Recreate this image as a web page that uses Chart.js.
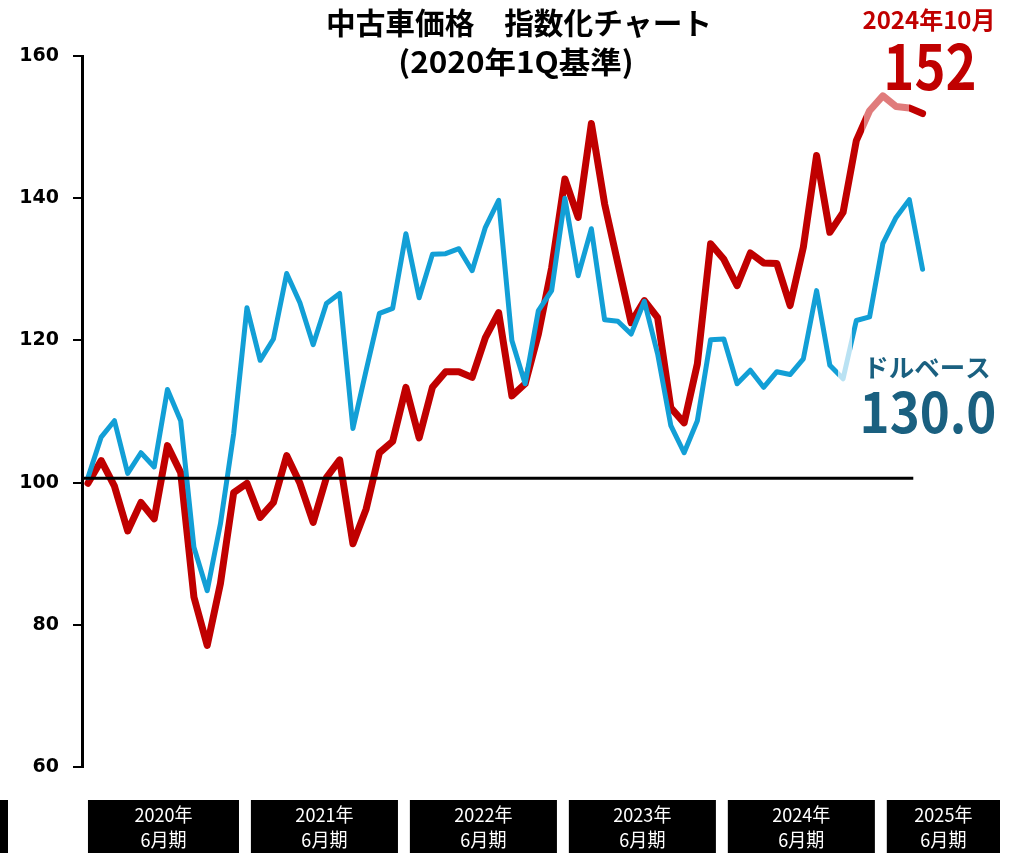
<!DOCTYPE html>
<html lang="ja">
<head>
<meta charset="utf-8">
<title>中古車価格 指数化チャート</title>
<script src="https://cdn.jsdelivr.net/npm/chart.js@4.4.1/dist/chart.umd.min.js"></script>
<style>
	html, body { margin: 0; padding: 0; background: #fff; }
	#wrap { position: relative; width: 1010px; height: 853px; }
</style>
</head>
<body>
<div id="wrap"><canvas id="chart"></canvas></div>
<script>
(function () {
	'use strict';

	// 月次 2019年7月〜2024年10月, 2020年1Q = 100
	var yenIndex = [
		99.9, 103.1, 99.5, 93.2, 97.2, 94.9, 105.2, 101.4, 83.9, 77.1, 85.8, 98.6,
		99.9, 95.1, 97.2, 103.8, 99.9, 94.4, 100.7, 103.2, 91.4, 96.3, 104.2, 105.8,
		113.4, 106.3, 113.4, 115.6, 115.6, 114.8, 120.4, 123.9, 112.2, 113.9, 120.9, 130.2,
		142.7, 137.3, 150.5, 139.2, 130.8, 122.5, 125.6, 123.2, 110.5, 108.4, 116.7, 133.6,
		131.4, 127.7, 132.3, 130.9, 130.8, 124.9, 133.1, 146.0, 135.2, 138.0, 148.1, 152.3,
		154.4, 152.9, 152.7, 151.9
	];
	var usdIndex = [
		100.7, 106.4, 108.7, 101.3, 104.2, 102.2, 113.1, 108.7, 90.9, 84.8, 94.2, 106.9,
		124.6, 117.2, 120.2, 129.4, 125.3, 119.4, 125.2, 126.6, 107.6, 115.8, 123.8, 124.5,
		135.0, 126.0, 132.1, 132.2, 132.9, 129.8, 135.9, 139.7, 120.0, 113.9, 124.2, 127.0,
		140.0, 129.1, 135.7, 122.9, 122.7, 120.9, 125.5, 118.1, 108.0, 104.2, 108.7, 120.1,
		120.2, 113.9, 115.8, 113.4, 115.6, 115.2, 117.4, 127.0, 116.5, 114.6, 122.8, 123.3,
		133.6, 137.3, 139.8, 130.0
	];
	var baseValue = 100.6;
	var baseEnd = 62.3;
	var yenPale = [58.6, 62.0];
	var usdPale = [56.6, 57.7];

	var fiscalYears = ['2020年', '2021年', '2022年', '2023年', '2024年', '2025年'];
	var fiscalSuffix = '6月期';

	var titleLines = ['中古車価格\u3000指数化チャート', '(2020年1Q基準)'];
	var yenNote = ['2024年10月', '152'];
	var usdNote = ['ドルベース', '130.0'];

	function toPoints(vals) {
		return vals.map(function (v, i) { return { x: i, y: v }; });
	}

	// 区間だけ薄い色にする横方向グラデーション
	function fadeColor(solid, pale, range) {
		return function (c) {
			var chart = c.chart;
			var area = chart.chartArea;
			var xs = chart.scales.x;
			if (!area || !xs) return solid;
			var l = area.left, w = area.right - area.left;
			var a = (xs.getPixelForValue(range[0]) - l) / w;
			var b = (xs.getPixelForValue(range[1]) - l) / w;
			var g = chart.ctx.createLinearGradient(l, 0, area.right, 0);
			g.addColorStop(0, solid);
			g.addColorStop(a, solid);
			g.addColorStop(a, pale);
			g.addColorStop(b, pale);
			g.addColorStop(b, solid);
			g.addColorStop(1, solid);
			return g;
		};
	}

	// 横に詰めた文字
	function squeezeText(ctx, text, x, y, sx) {
		ctx.save();
		ctx.translate(x, y);
		ctx.scale(sx, 1);
		ctx.fillText(text, 0, 0);
		ctx.restore();
	}

	var cjk = '"Noto Sans CJK JP", "Noto Sans", sans-serif';

	var decor = {
		id: 'decor',
		afterDraw: function (chart) {
			var ctx = chart.ctx;
			var xs = chart.scales.x;
			ctx.save();

			// タイトル
			ctx.fillStyle = '#000';
			ctx.textAlign = 'center';
			ctx.textBaseline = 'middle';
			ctx.font = 'bold 30px ' + cjk;
			squeezeText(ctx, titleLines[0], 519, 23, 0.99);
			squeezeText(ctx, titleLines[1], 516, 62, 1.05);

			// 円ベース注記
			ctx.fillStyle = '#c00000';
			ctx.font = 'bold 24px ' + cjk;
			squeezeText(ctx, yenNote[0], 929, 20, 1.0);
			ctx.font = 'bold 62px ' + cjk;
			squeezeText(ctx, yenNote[1], 930, 66, 0.85);

			// ドルベース注記
			ctx.fillStyle = '#1a6080';
			ctx.font = 'bold 25px ' + cjk;
			squeezeText(ctx, usdNote[0], 927, 367, 1.02);
			ctx.font = 'bold 56px ' + cjk;
			squeezeText(ctx, usdNote[1], 928, 412, 0.91);

			// 決算期ボックス
			ctx.fillStyle = '#000';
			ctx.fillRect(0, 800, 8, 53);
			fiscalYears.forEach(function (fy, k) {
				var x0 = k === 0 ? xs.getPixelForValue(0) : xs.getPixelForValue(12 * k + 0.3);
				var x1 = Math.min(xs.getPixelForValue(12 * k + 11.4), 1000);
				ctx.fillStyle = '#000';
				ctx.fillRect(x0, 800, x1 - x0, 53);
				ctx.fillStyle = '#fff';
				ctx.font = '19px ' + cjk;
				squeezeText(ctx, fy, (x0 + x1) / 2, 815, 0.95);
				squeezeText(ctx, fiscalSuffix, (x0 + x1) / 2, 840, 0.95);
			});

			ctx.restore();
		}
	};

	var el = document.getElementById('chart');

	new Chart(el, {
		type: 'line',
		data: {
			datasets: [
				{
					label: 'base',
					data: [{ x: -0.45, y: baseValue }, { x: baseEnd, y: baseValue }],
					borderColor: '#000',
					borderWidth: 3,
					pointRadius: 0,
					order: 0,
				},
				{
					label: 'ドルベース',
					data: toPoints(usdIndex),
					borderColor: fadeColor('#129fd6', '#b9e2f3', usdPale),
					borderWidth: 5,
					borderJoinStyle: 'round',
					borderCapStyle: 'round',
					pointRadius: 0,
					tension: 0,
					order: 1,
				},
				{
					label: '円ベース',
					data: toPoints(yenIndex),
					borderColor: fadeColor('#c00000', '#e07b7b', yenPale),
					borderWidth: 7,
					borderJoinStyle: 'round',
					borderCapStyle: 'round',
					pointRadius: 0,
					tension: 0,
					order: 2,
				},
			],
		},
		options: {
			responsive: true,
			maintainAspectRatio: false,
			animation: false,
			layout: { padding: { top: 56, bottom: 86, left: 0, right: 0 } },
			plugins: {
				legend: { display: false },
				tooltip: { enabled: false },
			},
			scales: {
				x: {
					type: 'linear',
					min: -0.45,
					max: 69.6,
					display: false,
				},
				y: {
					min: 60,
					max: 160,
					afterFit: function (s) { s.width = 82; },
					ticks: {
						stepSize: 20,
						padding: 14,
						color: '#000',
						font: { family: '"DejaVu Sans"', weight: 'bold', size: 19 },
					},
					grid: {
						drawOnChartArea: false,
						tickLength: 9,
						lineWidth: 2,
						color: '#000',
					},
					border: { display: true, color: '#000', width: 3 },
				},
			},
		},
		plugins: [decor],
	});

}());
</script>
</body>
</html>
